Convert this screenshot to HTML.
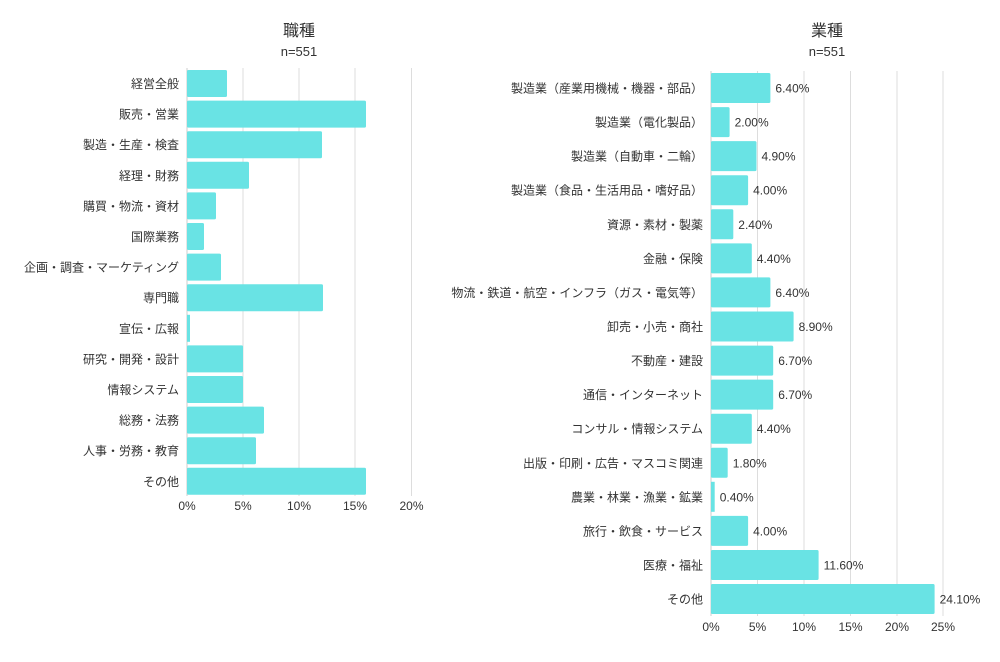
<!DOCTYPE html>
<html><head><meta charset="utf-8"><style>
body{margin:0;background:#fff}
svg text{font-family:"Liberation Sans","Noto Sans CJK JP",sans-serif;fill:#333}
</style></head><body>
<svg width="1000" height="657" xmlns="http://www.w3.org/2000/svg">
<g stroke="#ddd" stroke-width="1">
<line x1="243" y1="68" x2="243" y2="496"/><line x1="299" y1="68" x2="299" y2="496"/><line x1="355" y1="68" x2="355" y2="496"/><line x1="411.5" y1="68" x2="411.5" y2="496"/>
<line x1="757.5" y1="71" x2="757.5" y2="616"/><line x1="804" y1="71" x2="804" y2="616"/><line x1="850.5" y1="71" x2="850.5" y2="616"/><line x1="897" y1="71" x2="897" y2="616"/><line x1="943" y1="71" x2="943" y2="616"/>
</g>
<line x1="187" y1="68" x2="187" y2="496" stroke="#ccc"/>
<line x1="711" y1="71" x2="711" y2="616" stroke="#ccc"/>
<text x="299" y="36" font-size="16" text-anchor="middle">職種</text>
<text x="299" y="56" font-size="13" text-anchor="middle">n=551</text>
<text x="827" y="36" font-size="16" text-anchor="middle">業種</text>
<text x="827" y="56" font-size="13" text-anchor="middle">n=551</text>
<g fill="#69e3e4">
<rect x="187" y="70" width="40" height="27" rx="1.5"/>
<rect x="187" y="100.6" width="179" height="27" rx="1.5"/>
<rect x="187" y="131.2" width="135" height="27" rx="1.5"/>
<rect x="187" y="161.8" width="62" height="27" rx="1.5"/>
<rect x="187" y="192.4" width="29" height="27" rx="1.5"/>
<rect x="187" y="223" width="17" height="27" rx="1.5"/>
<rect x="187" y="253.6" width="34" height="27" rx="1.5"/>
<rect x="187" y="284.2" width="136" height="27" rx="1.5"/>
<rect x="187" y="314.8" width="3" height="27"/>
<rect x="187" y="345.4" width="56" height="27" rx="1.5"/>
<rect x="187" y="376" width="56" height="27" rx="1.5"/>
<rect x="187" y="406.6" width="77" height="27" rx="1.5"/>
<rect x="187" y="437.2" width="69" height="27" rx="1.5"/>
<rect x="187" y="467.8" width="179" height="27" rx="1.5"/>
<rect x="711" y="73" width="59.4" height="30" rx="1.5"/>
<rect x="711" y="107.1" width="18.6" height="30" rx="1.5"/>
<rect x="711" y="141.1" width="45.5" height="30" rx="1.5"/>
<rect x="711" y="175.2" width="37.1" height="30" rx="1.5"/>
<rect x="711" y="209.3" width="22.3" height="30" rx="1.5"/>
<rect x="711" y="243.4" width="40.8" height="30" rx="1.5"/>
<rect x="711" y="277.4" width="59.4" height="30" rx="1.5"/>
<rect x="711" y="311.5" width="82.6" height="30" rx="1.5"/>
<rect x="711" y="345.6" width="62.2" height="30" rx="1.5"/>
<rect x="711" y="379.6" width="62.2" height="30" rx="1.5"/>
<rect x="711" y="413.7" width="40.8" height="30" rx="1.5"/>
<rect x="711" y="447.8" width="16.7" height="30" rx="1.5"/>
<rect x="711" y="481.8" width="3.7" height="30"/>
<rect x="711" y="515.9" width="37.1" height="30" rx="1.5"/>
<rect x="711" y="550" width="107.6" height="30" rx="1.5"/>
<rect x="711" y="584" width="223.6" height="30" rx="1.5"/>
</g>
<g font-size="12" text-anchor="end">
<text x="179" y="88">経営全般</text>
<text x="179" y="118.6">販売・営業</text>
<text x="179" y="149.2">製造・生産・検査</text>
<text x="179" y="179.8">経理・財務</text>
<text x="179" y="210.4">購買・物流・資材</text>
<text x="179" y="241">国際業務</text>
<text x="179" y="271.6">企画・調査・マーケティング</text>
<text x="179" y="302.2">専門職</text>
<text x="179" y="332.8">宣伝・広報</text>
<text x="179" y="363.4">研究・開発・設計</text>
<text x="179" y="394">情報システム</text>
<text x="179" y="424.6">総務・法務</text>
<text x="179" y="455.2">人事・労務・教育</text>
<text x="179" y="485.8">その他</text>
<text x="703" y="92.5">製造業（産業用機械・機器・部品）</text>
<text x="703" y="126.6">製造業（電化製品）</text>
<text x="703" y="160.6">製造業（自動車・二輪）</text>
<text x="703" y="194.7">製造業（食品・生活用品・嗜好品）</text>
<text x="703" y="228.8">資源・素材・製薬</text>
<text x="703" y="262.9">金融・保険</text>
<text x="703" y="296.9">物流・鉄道・航空・インフラ（ガス・電気等）</text>
<text x="703" y="331">卸売・小売・商社</text>
<text x="703" y="365.1">不動産・建設</text>
<text x="703" y="399.1">通信・インターネット</text>
<text x="703" y="433.2">コンサル・情報システム</text>
<text x="703" y="467.3">出版・印刷・広告・マスコミ関連</text>
<text x="703" y="501.3">農業・林業・漁業・鉱業</text>
<text x="703" y="535.4">旅行・飲食・サービス</text>
<text x="703" y="569.5">医療・福祉</text>
<text x="703" y="603.5">その他</text>
</g>
<g font-size="12">
<text x="775.4" y="92.5">6.40%</text>
<text x="734.6" y="126.6">2.00%</text>
<text x="761.5" y="160.6">4.90%</text>
<text x="753.1" y="194.7">4.00%</text>
<text x="738.3" y="228.8">2.40%</text>
<text x="756.8" y="262.9">4.40%</text>
<text x="775.4" y="296.9">6.40%</text>
<text x="798.6" y="331">8.90%</text>
<text x="778.2" y="365.1">6.70%</text>
<text x="778.2" y="399.1">6.70%</text>
<text x="756.8" y="433.2">4.40%</text>
<text x="732.7" y="467.3">1.80%</text>
<text x="719.7" y="501.3">0.40%</text>
<text x="753.1" y="535.4">4.00%</text>
<text x="823.6" y="569.5">11.60%</text>
<text x="939.6" y="603.5">24.10%</text>
</g>
<g font-size="12" text-anchor="middle">
<text x="187" y="510">0%</text><text x="243" y="510">5%</text><text x="299" y="510">10%</text><text x="355" y="510">15%</text><text x="411.5" y="510">20%</text>
<text x="711" y="631">0%</text><text x="757.5" y="631">5%</text><text x="804" y="631">10%</text><text x="850.5" y="631">15%</text><text x="897" y="631">20%</text><text x="943" y="631">25%</text>
</g>
</svg>
</body></html>
